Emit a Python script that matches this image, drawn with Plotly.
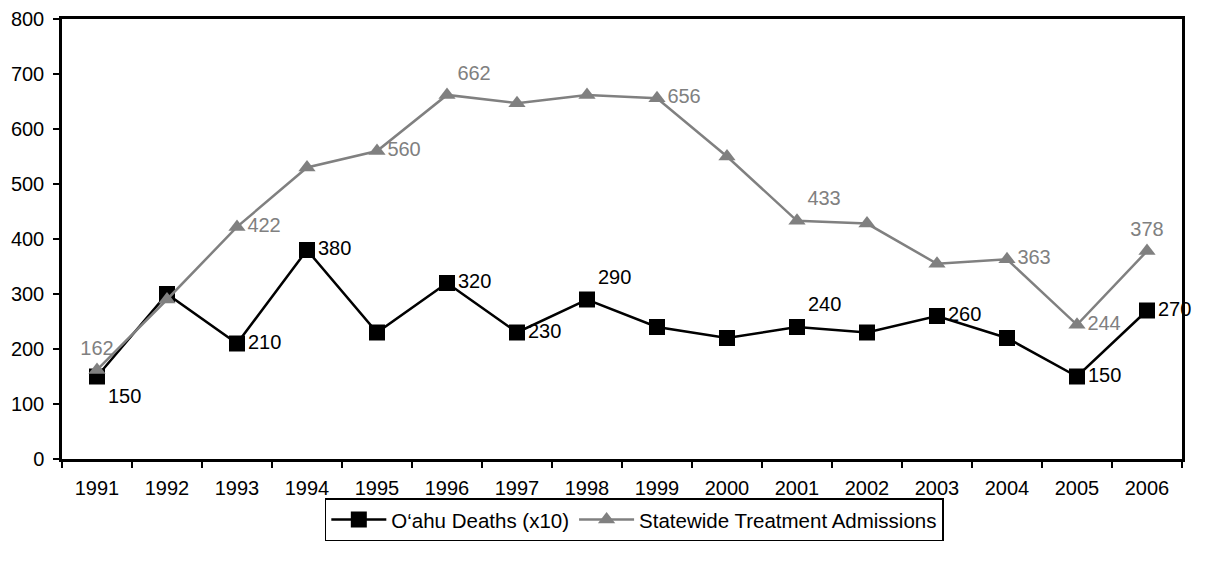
import plotly.graph_objects as go

years = [str(y) for y in range(1991, 2007)]
oahu_deaths_x10 = [150, 300, 210, 380, 230, 320, 230, 290, 240, 220, 240, 230, 260, 220, 150, 270]
treatment_admissions = [162, 290, 422, 530, 560, 662, 647, 662, 656, 550, 433, 428, 355, 363, 244, 378]

# which points carry a value label, and where it sits
deaths_labels = ["150", "", "210", "380", "", "320", "230", "290", "", "", "240", "", "260", "", "150", "270"]
deaths_pos = ["bottom right", "middle right", "middle right", "middle right", "middle right",
              "middle right", "middle right", "top right", "middle right", "middle right",
              "top right", "middle right", "middle right", "middle right", "middle right", "middle right"]
adm_labels = ["162", "", "422", "", "560", "662", "", "", "656", "", "433", "", "", "363", "244", "378"]
adm_pos = ["top center", "middle right", "middle right", "middle right", "middle right",
           "top right", "middle right", "middle right", "middle right", "middle right",
           "top right", "middle right", "middle right", "middle right", "middle right", "top center"]

font_family = "Liberation Sans, Arial, sans-serif"

fig = go.Figure()
fig.add_trace(go.Scatter(
    x=years, y=oahu_deaths_x10, name="O‘ahu Deaths (x10)",
    mode="lines+markers+text",
    line=dict(color="black", width=2.5),
    marker=dict(symbol="square", size=16, color="black"),
    text=deaths_labels, textposition=deaths_pos,
    textfont=dict(color="black", size=20, family=font_family),
    cliponaxis=False,
))
fig.add_trace(go.Scatter(
    x=years, y=treatment_admissions, name="Statewide Treatment Admissions",
    mode="lines+markers+text",
    line=dict(color="#808080", width=2.5),
    marker=dict(symbol="triangle-up", size=15, color="#808080"),
    text=adm_labels, textposition=adm_pos,
    textfont=dict(color="#808080", size=20, family=font_family),
    cliponaxis=False,
))

# page body keeps its default 8px margin, so the figure is sized to fit inside it
fig.update_layout(
    width=1189, height=548,
    margin=dict(l=54, r=15, t=11, b=97, autoexpand=False),
    paper_bgcolor="white", plot_bgcolor="white",
    font=dict(family=font_family, size=20, color="black"),
    showlegend=True,
    legend=dict(
        orientation="h", x=0.511, xanchor="center", y=-0.138, yanchor="middle",
        bordercolor="black", borderwidth=1.5, font=dict(size=20.5),
        tracegroupgap=0, itemwidth=55,
    ),
)
fig.update_xaxes(
    type="category", tickson="boundaries", range=[-0.5, 15.5],
    showline=True, linecolor="black", linewidth=2.5, mirror=True,
    ticks="outside", ticklen=6, tickwidth=2, tickcolor="black",
    showgrid=False, zeroline=False, tickfont=dict(size=20),
    ticklabelstandoff=9,
)
fig.update_yaxes(
    range=[0, 800], dtick=100,
    showline=True, linecolor="black", linewidth=2.5, mirror=True,
    ticks="outside", ticklen=6, tickwidth=2, tickcolor="black",
    showgrid=False, zeroline=False, tickfont=dict(size=20),
    ticklabelstandoff=5,
)

fig.write_html("out.html")
